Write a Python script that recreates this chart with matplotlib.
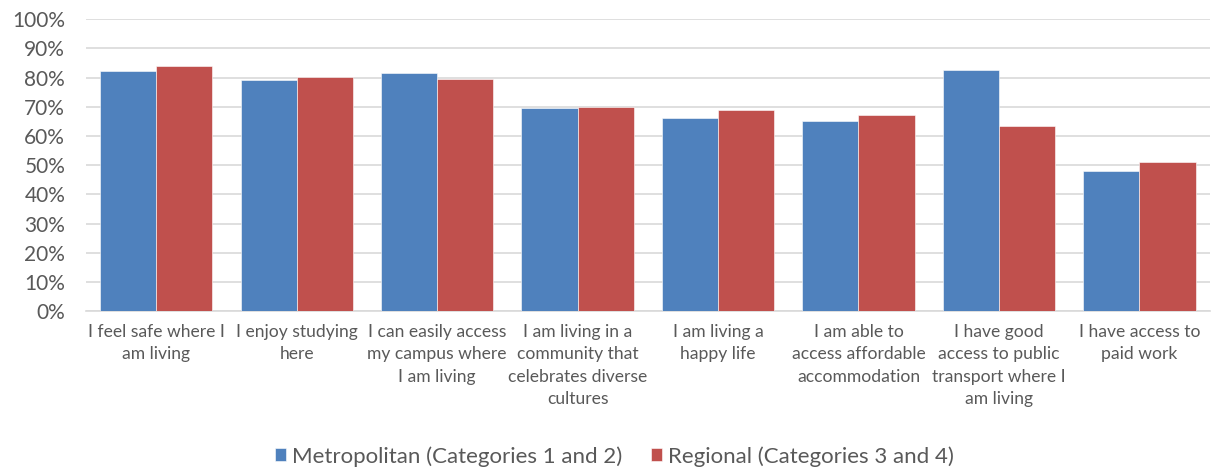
import numpy as np
import matplotlib.pyplot as plt
from matplotlib.ticker import PercentFormatter

plt.rcParams['font.family'] = ['Lato', 'DejaVu Sans']

# ------------------- Data -------------------
categories = [
    'I feel safe where I\nam living',
    'I enjoy studying\nhere',
    'I can easily access\nmy campus where\nI am living',
    'I am living in a\ncommunity that\ncelebrates diverse\ncultures',
    'I am living a\nhappy life',
    'I am able to\naccess affordable\naccommodation',
    'I have good\naccess to public\ntransport where I\nam living',
    'I have access to\npaid work',
]
metropolitan = [0.822, 0.791, 0.815, 0.695, 0.661, 0.651, 0.825, 0.479]
regional = [0.839, 0.801, 0.795, 0.699, 0.688, 0.671, 0.634, 0.510]
series_names = ['Metropolitan (Categories 1 and 2)', 'Regional (Categories 3 and 4)']

blue = '#4F81BD'
red = '#C0504D'
text_col = '#595959'

# ------------------- Plot -------------------
fig = plt.figure(figsize=(12.12, 4.68), dpi=100)
ax = fig.add_axes([0.071, 0.335, 0.927, 0.624])

x = np.arange(len(categories))
w = 0.4
ax.bar(x - w / 2, metropolitan, w, color=blue, edgecolor='white', linewidth=0.4,
       label=series_names[0], zorder=3)
ax.bar(x + w / 2, regional, w, color=red, edgecolor='white', linewidth=0.4,
       label=series_names[1], zorder=3)

ax.set_xlim(-0.5, len(categories) - 0.5)
ax.set_ylim(0, 1.0)
ax.set_yticks(np.arange(0, 1.01, 0.1))
ax.yaxis.set_major_formatter(PercentFormatter(1.0, decimals=0))
ax.set_xticks(x)
ax.set_xticklabels(categories, fontsize=12.6, color=text_col, linespacing=1.5)
ax.tick_params(axis='y', labelsize=15, labelcolor=text_col, length=0, pad=15)
ax.tick_params(axis='x', length=0, pad=9)
ax.grid(axis='y', color='#D9D9D9', linewidth=1.2, zorder=0)
for s in ['top', 'right', 'left']:
    ax.spines[s].set_visible(False)
ax.spines['bottom'].set_color('#D9D9D9')
ax.spines['bottom'].set_linewidth(1.2)

leg = fig.legend(loc='lower center', bbox_to_anchor=(0.507, -0.04), ncol=2, frameon=False,
                 fontsize=16, handlelength=0.5, handleheight=0.5, handletextpad=0.25,
                 columnspacing=1.3)
for t in leg.get_texts():
    t.set_color(text_col)

fig.savefig('out.png', dpi=100)
